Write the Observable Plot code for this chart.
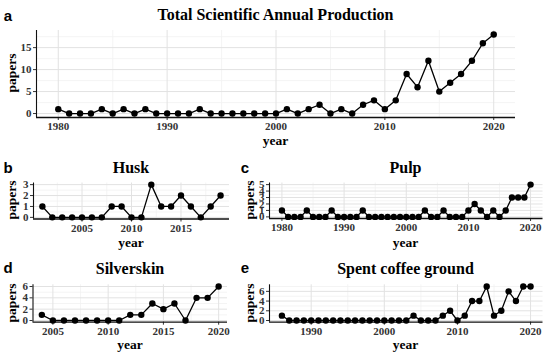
<!DOCTYPE html>
<html>
<head>
<meta charset="utf-8">
<script src="https://cdn.jsdelivr.net/npm/d3@7"></script>
<script src="https://cdn.jsdelivr.net/npm/@observablehq/plot@0.6"></script>
<style>
  html, body { margin: 0; padding: 0; background: #fff; }
  #fig { position: relative; width: 550px; height: 356px; overflow: hidden; background: #fff; }
  .pnl { position: absolute; }
  .pnl svg text { font-family: "Liberation Serif", "Times New Roman", serif !important; font-weight: bold; }
  .lab { position: absolute; transform: translate(-50%, -50%); white-space: nowrap; line-height: 1;
         font-family: "Liberation Serif", "Times New Roman", serif; font-weight: bold; color: #000; }
  .ttl { font-size: 16px; }
  .axt { font-size: 13.5px; }
  .rot { transform: translate(-50%, -50%) rotate(-90deg); }
  .let { font-family: "Liberation Sans", Arial, sans-serif; font-size: 15px; }
</style>
</head>
<body>
<div id="fig"></div>
<script>
// ---------- data ----------
const totalYears = [1980,1981,1982,1983,1984,1985,1986,1987,1988,1989,
                    1990,1991,1992,1993,1994,1995,1996,1997,1998,1999,
                    2000,2001,2002,2003,2004,2005,2006,2007,2008,2009,
                    2010,2011,2012,2013,2014,2015,2016,2017,2018,2019,2020];
const totalPapers = [1,0,0,0,1,0,1,0,1,0,
                     0,0,0,1,0,0,0,0,0,0,
                     0,1,0,1,2,0,1,0,2,3,
                     1,3,9,6,12,5,7,9,12,16,18];

const huskYears = [2001,2002,2003,2004,2005,2006,2007,2008,2009,2010,
                   2011,2012,2013,2014,2015,2016,2017,2018,2019];
const huskPapers = [1,0,0,0,0,0,0,1,1,0,
                    0,3,1,1,2,1,0,1,2];

const pulpYears = [1980,1981,1982,1983,1984,1985,1986,1987,1988,1989,
                   1990,1991,1992,1993,1994,1995,1996,1997,1998,1999,
                   2000,2001,2002,2003,2004,2005,2006,2007,2008,2009,
                   2010,2011,2012,2013,2014,2015,2016,2017,2018,2019,2020];
const pulpPapers = [1,0,0,0,1,0,0,0,1,0,
                    0,0,0,1,0,0,0,0,0,0,
                    0,0,0,1,0,0,1,0,0,0,
                    1,2,1,0,1,0,1,3,3,3,5];

const silverYears = [2004,2005,2006,2007,2008,2009,2010,2011,2012,2013,
                     2014,2015,2016,2017,2018,2019,2020];
const silverPapers = [1,0,0,0,0,0,0,0,1,1,
                      3,2,3,0,4,4,6];

const scgYears = [1986,1987,1988,1989,1990,1991,1992,1993,1994,1995,
                  1996,1997,1998,1999,2000,2001,2002,2003,2004,2005,
                  2006,2007,2008,2009,2010,2011,2012,2013,2014,2015,
                  2016,2017,2018,2019,2020];
const scgPapers = [1,0,0,0,0,0,0,0,0,0,
                   0,0,0,0,0,0,0,0,1,0,
                   0,0,1,2,0,1,4,4,7,1,
                   2,6,4,7,7];

// tick labels (major) and minor grid positions
const totalXTicks = [1980,1990,2000,2010,2020];
const totalXMinor = [1985,1995,2005,2015];
const totalYTicks = [0,5,10,15];
const totalYMinor = [2.5,7.5,12.5,17.5];

const huskXTicks = [2005,2010,2015];
const huskXMinor = [2002.5,2007.5,2012.5,2017.5];
const huskYTicks = [0,1,2,3];
const huskYMinor = [0.5,1.5,2.5];

const pulpXTicks = [1980,1990,2000,2010,2020];
const pulpXMinor = [1985,1995,2005,2015];
const pulpYTicks = [0,1,2,3,4,5];
const pulpYMinor = [0.5,1.5,2.5,3.5,4.5];

const silverXTicks = [2005,2010,2015,2020];
const silverXMinor = [2007.5,2012.5,2017.5];
const silverYTicks = [0,2,4,6];
const silverYMinor = [1,3,5];

const scgXTicks = [1990,2000,2010,2020];
const scgXMinor = [1995,2005,2015];
const scgYTicks = [0,2,4,6];
const scgYMinor = [1,3,5,7];

// ---------- drawing ----------
const fig = document.getElementById("fig");
const SERIF = "Liberation Serif";

function expand(ext) {
  const r = ext[1] - ext[0];
  return [ext[0] - 0.05 * r, ext[1] + 0.05 * r];
}

function panel(years, papers, xTicks, xMinor, yTicks, yMinor, box) {
  const data = years.map((y, i) => ({year: y, papers: papers[i]}));
  const xd = expand(d3.extent(years));
  const yd = expand(d3.extent(papers));
  const svg = Plot.plot({
    width: box.w, height: box.h,
    marginLeft: box.ml, marginRight: box.mr, marginTop: box.mt, marginBottom: box.mb,
    x: {domain: xd},
    y: {domain: yd},
    style: {fontFamily: SERIF, fontSize: "11px", fontWeight: "bold", color: "#333",
            background: "transparent", overflow: "visible"},
    marks: [
      Plot.gridX(xMinor, {stroke: "#f1f1f1", strokeOpacity: 1, strokeWidth: 0.8}),
      Plot.gridY(yMinor, {stroke: "#f1f1f1", strokeOpacity: 1, strokeWidth: 0.8}),
      Plot.gridX(xTicks, {stroke: "#e2e2e2", strokeOpacity: 1, strokeWidth: 1}),
      Plot.gridY(yTicks, {stroke: "#e2e2e2", strokeOpacity: 1, strokeWidth: 1}),
      Plot.axisX(xTicks, {tickFormat: d => String(d), tickSize: 3, tickPadding: 2, label: null,
                          fontFamily: SERIF, fontWeight: "bold", fontSize: 11}),
      Plot.axisY(yTicks, {tickFormat: d => String(d), tickSize: 3, tickPadding: 2, label: null,
                          fontFamily: SERIF, fontWeight: "bold", fontSize: 11}),
      Plot.ruleY([yd[0]], {stroke: "#111", strokeWidth: 1.3}),
      Plot.ruleX([xd[0]], {stroke: "#111", strokeWidth: 1.1}),
      Plot.line(data, {x: "year", y: "papers", stroke: "#000", strokeWidth: 1.3}),
      Plot.dot(data, {x: "year", y: "papers", fill: "#000", stroke: "none", r: 3.2})
    ]
  });
  const wrap = document.createElement("div");
  wrap.className = "pnl";
  wrap.style.left = box.x + "px";
  wrap.style.top = box.y + "px";
  wrap.appendChild(svg);
  fig.appendChild(wrap);
}

function label(text, x, y, cls) {
  const d = document.createElement("div");
  d.className = "lab " + cls;
  d.style.left = x + "px";
  d.style.top = y + "px";
  d.textContent = text;
  fig.appendChild(d);
}

// panel a
panel(totalYears, totalPapers, totalXTicks, totalXMinor, totalYTicks, totalYMinor,
      {x: 0, y: 0, w: 550, h: 150, ml: 36, mr: 35, mt: 30, mb: 33});
// panel b
panel(huskYears, huskPapers, huskXTicks, huskXMinor, huskYTicks, huskYMinor,
      {x: 0, y: 150, w: 275, h: 100, ml: 33, mr: 46, mt: 32.5, mb: 31.5});
// panel c
panel(pulpYears, pulpPapers, pulpXTicks, pulpXMinor, pulpYTicks, pulpYMinor,
      {x: 240, y: 150, w: 310, h: 100, ml: 29, mr: 7.5, mt: 32.5, mb: 32});
// panel d
panel(silverYears, silverPapers, silverXTicks, silverXMinor, silverYTicks, silverYMinor,
      {x: 0, y: 250, w: 275, h: 106, ml: 32.5, mr: 48, mt: 34.3, mb: 34.3});
// panel e
panel(scgYears, scgPapers, scgXTicks, scgXMinor, scgYTicks, scgYMinor,
      {x: 240, y: 250, w: 310, h: 106, ml: 29, mr: 7.5, mt: 34.3, mb: 34.3});

// titles, panel letters, axis titles
label("a", 8, 15, "let");
label("Total Scientific Annual Production", 275.5, 15, "ttl");
label("papers", 12, 73, "axt rot");
label("year", 275.5, 141, "axt");

label("b", 8, 167, "let");
label("Husk", 131, 168, "ttl");
label("papers", 12, 200, "axt rot");
label("year", 131, 243, "axt");

label("c", 245, 167, "let");
label("Pulp", 405.5, 168, "ttl");
label("papers", 250, 200, "axt rot");
label("year", 405.5, 243, "axt");

label("d", 8, 267, "let");
label("Silverskin", 130, 269, "ttl");
label("papers", 12, 303, "axt rot");
label("year", 130, 345, "axt");

label("e", 245, 267, "let");
label("Spent coffee ground", 405.5, 269, "ttl");
label("papers", 250, 303, "axt rot");
label("year", 405.5, 345, "axt");
</script>
</body>
</html>
